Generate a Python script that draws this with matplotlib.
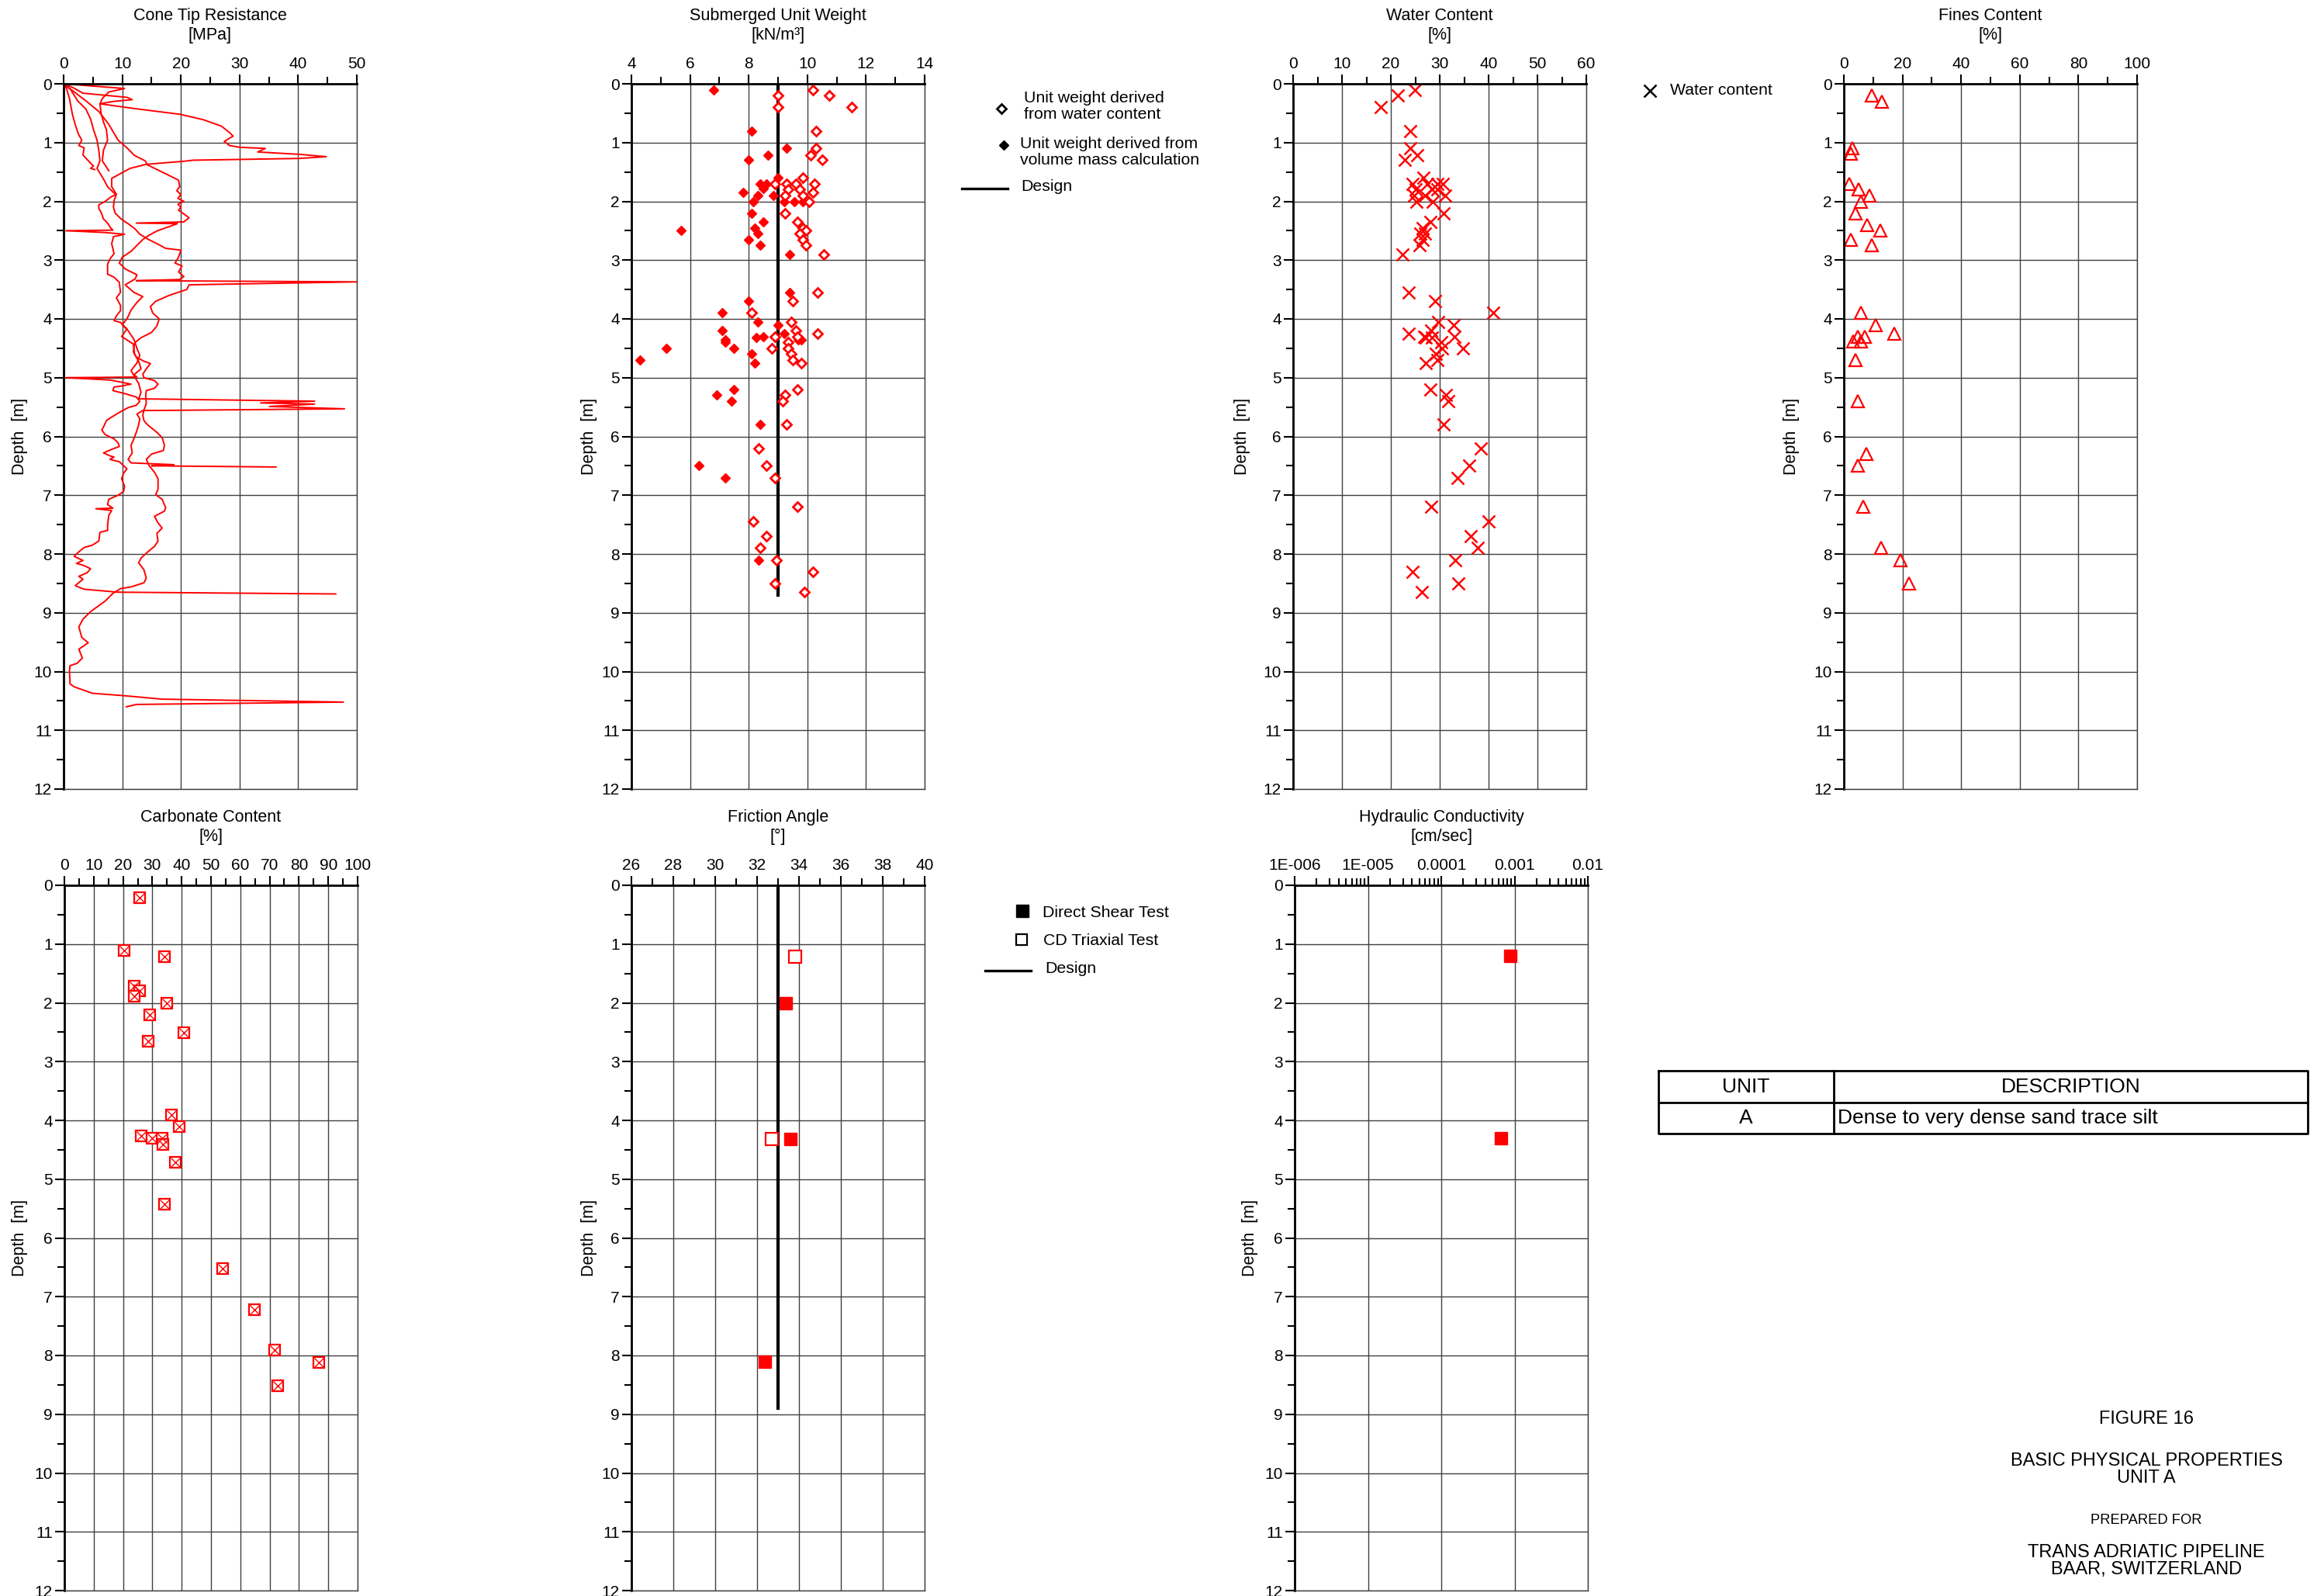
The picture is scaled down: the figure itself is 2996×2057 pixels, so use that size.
import numpy as np
import matplotlib.pyplot as plt
from matplotlib.ticker import MultipleLocator, FixedLocator, FixedFormatter, LogLocator, NullFormatter

plt.rcParams['font.family'] = ['Liberation Sans', 'DejaVu Sans']

W, H = 2996, 2057
DPI = 100

# ***********************
# DATA (depth [m], value)
# ***********************

# cone tip resistance soundings (depth, qc MPa)
cpt_a = [(0, 0), (0.08, 10.4), (0.14, 7.7), (0.25, 6.6), (0.34, 6.2), (0.51, 6.4), (0.65, 6.8),
         (0.78, 7.3), (0.96, 7.5), (1.13, 6.8), (1.31, 6.6), (1.48, 7.7)]
cpt_c = [(0, 0), (0.08, 0.5), (0.25, 1.0), (0.52, 1.5), (0.7, 2.0), (0.85, 2.5), (0.96, 3.1),
         (1.05, 2.6), (1.09, 3.5), (1.21, 3.3), (1.33, 4.4), (1.4, 5.1), (1.44, 4.6), (1.46, 5.3)]
cpt_d = [(0, 0), (0.1, 1.2), (0.29, 2.4), (0.43, 3.8), (0.6, 4.6), (0.78, 5.1), (0.96, 5.7),
         (1.13, 6.0), (1.31, 6.2), (1.44, 5.7), (1.62, 6.8), (1.75, 7.5), (1.86, 8.6), (1.88, 9.0),
         (1.93, 8.0), (2.0, 7.1), (2.06, 6.0), (2.12, 6.0), (2.19, 6.4), (2.3, 6.8), (2.37, 7.5),
         (2.45, 8.0), (2.49, 8.4), (2.5, 0.4), (2.53, 7.0), (2.56, 10.4), (2.6, 8.5), (2.72, 8.2),
         (2.89, 8.6), (2.98, 7.9), (3.07, 7.5), (3.24, 7.5), (3.29, 8.6), (3.38, 9.5), (3.55, 9.7),
         (3.64, 9.0), (3.77, 9.7), (3.86, 9.7), (3.95, 9.0), (4.03, 8.6), (4.06, 9.7), (4.17, 10.8),
         (4.3, 9.9), (4.43, 11.9), (4.6, 12.1), (4.72, 12.8), (4.85, 13.2), (4.95, 12.0), (4.99, 12.5),
         (5.0, 0.4), (5.04, 7.9), (5.07, 9.5), (5.11, 11.5), (5.14, 10.0), (5.16, 8.6), (5.22, 8.4),
         (5.27, 10.4), (5.33, 12.4), (5.4, 13.0), (5.47, 12.4), (5.51, 11.0), (5.58, 9.7), (5.67, 8.2),
         (5.73, 7.3), (5.84, 6.8), (5.89, 6.5), (5.97, 7.1), (6.04, 8.6), (6.11, 9.3), (6.17, 9.5),
         (6.22, 8.2), (6.28, 6.8), (6.33, 7.9), (6.35, 8.6), (6.39, 7.9), (6.43, 9.5), (6.55, 10.8),
         (6.63, 10.2), (6.72, 9.9), (6.85, 10.4), (6.94, 10.2), (7.0, 9.3), (7.07, 7.7), (7.16, 7.5),
         (7.22, 8.4), (7.23, 5.5), (7.26, 8.2), (7.34, 7.7), (7.51, 7.5), (7.6, 7.5), (7.63, 6.2),
         (7.78, 6.0), (7.85, 4.9), (7.89, 3.5), (7.98, 2.4), (8.04, 1.8), (8.11, 3.3), (8.16, 2.2),
         (8.19, 3.3), (8.25, 4.6), (8.32, 4.0), (8.38, 2.6), (8.43, 3.3), (8.52, 2.2), (8.54, 2.0),
         (8.6, 3.5), (8.65, 9.3), (8.68, 46.4)]
cpt_b = [(0, 0), (0.06, 1.5), (0.16, 3.3), (0.23, 10.8), (0.27, 11.7), (0.3, 8.5), (0.34, 6.2),
         (0.42, 12.0), (0.52, 19.9), (0.61, 23.8), (0.72, 26.9), (0.83, 28.3), (0.89, 28.9),
         (0.98, 27.4), (1.05, 28.3), (1.08, 30.0), (1.1, 34.4), (1.16, 33.1), (1.2, 40.2),
         (1.24, 44.8), (1.27, 40.2), (1.3, 22.1), (1.32, 20.3), (1.37, 14.1), (1.44, 11.3),
         (1.61, 8.2), (1.75, 8.2), (1.88, 9.0), (1.99, 8.6), (2.1, 8.5), (2.2, 8.8), (2.3, 9.8),
         (2.38, 11.0), (2.47, 12.2), (2.56, 13.0), (2.65, 14.5), (2.74, 16.3), (2.8, 17.4),
         (2.83, 20.0), (2.95, 19.6), (3.05, 19.0), (3.1, 20.2), (3.2, 19.6), (3.28, 20.5),
         (3.33, 19.8), (3.35, 12.4), (3.37, 50.0), (3.42, 21.4), (3.5, 21.0), (3.6, 18.0),
         (3.7, 15.7), (3.79, 14.8), (3.9, 15.2), (4.0, 16.3), (4.12, 15.9), (4.23, 15.0),
         (4.32, 13.2), (4.41, 12.1), (4.56, 11.9), (4.65, 12.4), (4.72, 13.7), (4.76, 14.8),
         (4.85, 14.1), (4.94, 13.5), (5.0, 13.7), (5.05, 15.5), (5.11, 16.1), (5.18, 15.5),
         (5.22, 14.1), (5.31, 14.0), (5.44, 14.1), (5.55, 13.7), (5.64, 13.5), (5.73, 13.7),
         (5.8, 14.3), (5.93, 15.9), (6.02, 16.8), (6.15, 17.2), (6.24, 17.0), (6.3, 15.0),
         (6.39, 14.1), (6.5, 14.6), (6.61, 15.5), (6.72, 16.1), (6.9, 16.1), (6.99, 15.7),
         (7.07, 16.8), (7.21, 17.4), (7.27, 17.2), (7.36, 15.5), (7.47, 16.1), (7.56, 16.8),
         (7.65, 15.9), (7.78, 16.1), (7.87, 15.5), (7.96, 14.4), (8.07, 13.2), (8.15, 12.8),
         (8.27, 13.7), (8.41, 14.1), (8.49, 13.7), (8.56, 11.5), (8.59, 9.7), (8.67, 8.4),
         (8.8, 7.1), (8.98, 4.6), (9.11, 3.3), (9.24, 2.6), (9.42, 3.1), (9.51, 4.2), (9.62, 2.6),
         (9.77, 3.2), (9.86, 2.3), (9.9, 1.1), (9.99, 1.0), (10.21, 1.1), (10.26, 1.8),
         (10.37, 4.9), (10.41, 10.2), (10.47, 16.8), (10.52, 47.7), (10.56, 12.4), (10.6, 10.7)]
cpt_e = [(0, 0), (0.29, 3.8), (0.47, 6.0), (0.69, 7.7), (0.96, 9.3), (1.09, 10.8), (1.22, 12.1),
         (1.31, 13.9), (1.38, 14.3), (1.53, 17.4), (1.64, 19.6), (1.75, 19.8), (1.82, 19.3),
         (1.88, 20.0), (1.95, 19.5), (2.0, 20.5), (2.05, 19.5), (2.1, 20.0), (2.15, 19.6),
         (2.2, 20.3), (2.28, 21.4), (2.35, 20.5), (2.37, 12.4), (2.38, 19.4), (2.43, 18.0),
         (2.5, 16.0), (2.58, 14.5), (2.65, 13.5), (2.75, 12.5), (2.85, 11.5), (2.95, 10.0),
         (3.05, 9.5), (3.15, 10.5), (3.25, 12.5), (3.32, 12.2), (3.42, 10.5), (3.55, 12.0),
         (3.62, 13.5), (3.72, 12.5), (3.85, 11.5), (4.0, 10.8), (4.1, 10.0), (4.2, 11.0),
         (4.35, 12.0), (4.5, 12.5), (4.62, 13.0), (4.75, 12.5), (4.88, 11.5), (5.0, 12.2),
         (5.1, 12.8), (5.25, 13.2), (5.36, 12.8), (5.4, 42.8), (5.43, 33.6), (5.45, 42.8),
         (5.49, 35.1), (5.53, 47.9), (5.56, 13.5), (5.62, 12.5), (5.7, 13.0), (5.8, 12.8),
         (5.93, 12.4), (6.06, 11.9), (6.15, 11.5), (6.28, 11.7), (6.39, 11.0), (6.45, 11.5),
         (6.48, 18.8), (6.5, 15.0), (6.52, 36.2)]
cpt_soundings = [cpt_a, cpt_c, cpt_d, cpt_b, cpt_e]

# submerged unit weight (depth, kN/m3)
uw_water = [(0.1, 10.2), (0.2, 10.75), (0.2, 9.0), (0.4, 9.0), (0.4, 11.5), (0.8, 10.3), (1.1, 10.3),
            (1.21, 10.1), (1.3, 10.5), (1.6, 9.85), (1.7, 9.3), (1.7, 9.6), (1.7, 10.25), (1.7, 8.9),
            (1.8, 9.75), (1.8, 9.35), (1.85, 10.2), (1.9, 9.85), (1.9, 9.25), (2.0, 10.05), (2.2, 9.25),
            (2.35, 9.65), (2.45, 9.85), (2.5, 9.95), (2.55, 9.75), (2.65, 9.85), (2.75, 9.95),
            (2.9, 10.55), (3.55, 10.35), (3.7, 9.5), (3.9, 8.1), (4.05, 9.45), (4.2, 9.6), (4.25, 10.35),
            (4.3, 8.9), (4.3, 9.65), (4.4, 9.35), (4.5, 8.8), (4.5, 9.35), (4.6, 9.45), (4.7, 9.5),
            (4.75, 9.8), (5.2, 9.65), (5.3, 9.25), (5.4, 9.15), (5.8, 9.3), (6.2, 8.35), (6.5, 8.6),
            (6.7, 8.9), (7.2, 9.65), (7.45, 8.15), (7.7, 8.6), (7.9, 8.4), (8.1, 8.95), (8.3, 10.2),
            (8.5, 8.9), (8.65, 9.9)]
uw_volume = [(0.1, 6.8), (0.8, 8.1), (1.1, 9.3), (1.21, 8.65), (1.3, 8.0), (1.6, 9.0), (1.7, 8.4),
             (1.7, 8.6), (1.78, 8.5), (1.85, 7.8), (1.9, 8.3), (1.9, 8.85), (2.0, 8.15), (2.0, 9.2),
             (2.0, 9.55), (2.0, 9.85), (2.2, 8.1), (2.35, 8.5), (2.45, 8.2), (2.5, 5.7), (2.55, 8.3),
             (2.65, 8.0), (2.75, 8.4), (2.9, 9.4), (3.55, 9.4), (3.7, 8.0), (3.9, 7.1), (4.05, 8.3),
             (4.1, 9.0), (4.2, 7.1), (4.25, 9.2), (4.3, 8.5), (4.32, 8.25), (4.35, 7.2), (4.35, 9.7),
             (4.35, 9.8), (4.4, 7.2), (4.5, 5.2), (4.5, 7.5), (4.6, 8.1), (4.7, 4.3), (4.75, 8.2),
             (5.2, 7.5), (5.3, 6.9), (5.4, 7.4), (5.8, 8.4), (6.5, 6.3), (6.7, 7.2), (8.1, 8.35)]
uw_design_value = 9.0
uw_design_depth = [0.0, 8.7]

# water content (depth, %)
water = [(0.1, 24.9), (0.2, 21.4), (0.4, 17.9), (0.8, 24.0), (1.1, 24.0), (1.21, 25.4), (1.3, 22.9),
         (1.6, 26.6), (1.7, 24.4), (1.7, 27.5), (1.7, 29.6), (1.7, 30.7), (1.8, 25.0), (1.8, 28.4),
         (1.8, 29.6), (1.9, 24.8), (1.9, 27.0), (1.9, 31.1), (2.0, 25.2), (2.0, 28.6), (2.2, 30.8),
         (2.35, 28.1), (2.45, 26.5), (2.55, 26.0), (2.55, 27.0), (2.65, 26.5), (2.75, 25.8),
         (2.9, 22.4), (3.55, 23.7), (3.7, 29.1), (3.9, 41.0), (4.05, 29.7), (4.1, 32.8), (4.2, 28.2),
         (4.25, 23.7), (4.3, 33.0), (4.32, 27.2), (4.32, 28.4), (4.3, 26.8), (4.4, 30.3), (4.5, 30.4),
         (4.5, 34.7), (4.6, 29.2), (4.7, 29.6), (4.75, 27.1), (5.2, 28.1), (5.3, 31.2), (5.4, 31.7),
         (5.8, 30.8), (6.2, 38.4), (6.5, 36.1), (6.7, 33.7), (7.2, 28.2), (7.45, 40.0), (7.7, 36.3),
         (7.9, 37.7), (8.1, 33.1), (8.3, 24.4), (8.5, 33.8), (8.65, 26.3)]

# fines content (depth, %)
fines = [(0.2, 9.5), (0.3, 12.9), (1.1, 2.9), (1.19, 2.3), (1.7, 1.8), (1.8, 5.0), (1.9, 8.6),
         (2.0, 5.9), (2.2, 4.0), (2.4, 8.0), (2.5, 12.4), (2.65, 2.5), (2.75, 9.5), (3.9, 5.9),
         (4.1, 10.9), (4.25, 17.1), (4.3, 4.7), (4.3, 7.2), (4.38, 3.3), (4.38, 5.9), (4.7, 4.0),
         (5.4, 4.7), (6.3, 7.6), (6.5, 4.7), (7.2, 6.6), (7.9, 12.7), (8.1, 19.2), (8.5, 22.3)]

# carbonate content (depth, %)
carbonate = [(0.21, 25.6), (1.11, 20.5), (1.21, 34.0), (1.72, 23.9), (1.8, 25.6), (1.89, 23.9),
             (2.0, 35.0), (2.21, 29.1), (2.51, 40.7), (2.66, 28.6), (3.91, 36.5), (4.11, 39.2),
             (4.26, 26.2), (4.31, 30.0), (4.31, 33.3), (4.41, 33.5), (4.71, 37.7), (5.42, 34.2),
             (6.52, 54.0), (7.22, 64.9), (7.91, 71.8), (8.12, 86.9), (8.52, 72.8)]

# friction angle (depth, deg)
phi_direct_shear = [(2.01, 33.38), (4.32, 33.6), (8.1, 32.38)]
phi_triaxial = [(1.21, 33.8), (4.32, 32.7)]
phi_design_value = 33.0
phi_design_depth = [0.05, 8.9]

# hydraulic conductivity (depth, cm/sec)
hydraulic = [(1.2, 8.8e-4), (4.31, 6.6e-4)]
k_ticks = [1e-6, 1e-5, 1e-4, 1e-3, 1e-2]
k_ticklabels = ['1E-006', '1E-005', '0.0001', '0.001', '0.01']

RED = '#ff0000'
GRID = '#404040'
TICK_FS = 15

fig = plt.figure(figsize=(W / DPI, H / DPI), dpi=DPI)


def make_panel(left, top, title, xlim, major, minor, ylab_off, width=378, height=909):
    ax = fig.add_axes([left / W, 1 - (top + height) / H, width / W, height / H])
    ax.set_ylim(12, 0)
    ax.set_xlim(*xlim)
    ax.yaxis.set_major_locator(MultipleLocator(1))
    ax.yaxis.set_minor_locator(MultipleLocator(0.5))
    if major is not None:
        ax.xaxis.set_major_locator(MultipleLocator(major))
        ax.xaxis.set_minor_locator(MultipleLocator(minor))
    ax.xaxis.tick_top()
    ax.tick_params(which='major', length=9, width=1.5, labelsize=TICK_FS, direction='out')
    ax.tick_params(which='minor', length=6.5, width=1.5, direction='out')
    ax.tick_params(axis='x', which='major', pad=2.5)
    ax.tick_params(axis='y', which='major', pad=2)
    ax.grid(True, which='major', color=GRID, lw=1.0)
    ax.set_axisbelow(True)
    for s in ['left', 'top']:
        ax.spines[s].set_linewidth(2.0)
    for s in ['right', 'bottom']:
        ax.spines[s].set_linewidth(1.0)
        ax.spines[s].set_color(GRID)
    ax.annotate(title, xy=(0.5, 1), xycoords='axes fraction', xytext=(0, 54),
                textcoords='offset points', ha='center', va='center', fontsize=15.5)
    ax.annotate('Depth  [m]', xy=(0, 0.5), xycoords='axes fraction', xytext=(-ylab_off * 0.72, 0),
                textcoords='offset points', ha='center', va='center', rotation=90, fontsize=15.5)
    return ax


def unpack(pairs):
    d = np.array([p[0] for p in pairs])
    v = np.array([p[1] for p in pairs])
    return d, v


# -------- Cone Tip Resistance --------
ax1 = make_panel(82, 108, 'Cone Tip Resistance\n[MPa]', (0, 50), 10, 5, 57)
for snd in cpt_soundings:
    d, q = unpack(snd)
    ax1.plot(q, d, color=RED, lw=1.4, clip_on=False)

# -------- Submerged Unit Weight --------
ax2 = make_panel(814, 108, 'Submerged Unit Weight\n[kN/m³]', (4, 14), 2, 1, 55)
ax2.plot([uw_design_value, uw_design_value], uw_design_depth, color='black', lw=3, zorder=2)
d, v = unpack(uw_volume)
ax2.plot(v, d, 'D', ms=6.5, color=RED, mec=RED, ls='none', zorder=3)
d, v = unpack(uw_water)
ax2.plot(v, d, 'D', ms=6, mfc='white', mec=RED, mew=2, ls='none', zorder=3)

# -------- Water Content --------
ax3 = make_panel(1667, 108, 'Water Content\n[%]', (0, 60), 10, 5, 66)
d, v = unpack(water)
ax3.plot(v, d, 'x', ms=11, mew=1.8, color=RED, ls='none')

# -------- Fines Content --------
ax4 = make_panel(2377, 108, 'Fines Content\n[%]', (0, 100), 20, 10, 67)
d, v = unpack(fines)
ax4.plot(v, d, '^', ms=11, mfc='none', mec=RED, mew=1.6, ls='none')

# -------- Carbonate Content --------
ax5 = make_panel(83, 1141, 'Carbonate Content\n[%]', (0, 100), 10, 5, 58)
d, v = unpack(carbonate)
ax5.plot(v, d, 's', ms=10.5, mfc='white', mec=RED, mew=1.6, ls='none')
ax5.plot(v, d, 'x', ms=9, mew=1.0, color=RED, ls='none')

# -------- Friction Angle --------
ax6 = make_panel(814, 1141, 'Friction Angle\n[°]', (26, 40), 2, 1, 55)
ax6.plot([phi_design_value, phi_design_value], phi_design_depth, color='black', lw=3, zorder=2)
d, v = unpack(phi_direct_shear)
ax6.plot(v, d, 's', ms=11, color=RED, ls='none', zorder=3)
d, v = unpack(phi_triaxial)
ax6.plot(v, d, 's', ms=11, mfc='white', mec=RED, mew=1.6, ls='none', zorder=3)

# -------- Hydraulic Conductivity --------
ax7 = make_panel(1669, 1141, 'Hydraulic Conductivity\n[cm/sec]', (1e-6, 1e-2), None, None, 58)
ax7.set_xscale('log')
ax7.set_xlim(1e-6, 1e-2)
ax7.xaxis.set_major_locator(FixedLocator(k_ticks))
ax7.xaxis.set_major_formatter(FixedFormatter(k_ticklabels))
ax7.xaxis.set_minor_locator(LogLocator(base=10, subs=np.arange(2, 10)))
ax7.xaxis.set_minor_formatter(NullFormatter())
ax7.tick_params(which='minor', length=6.5, width=1.5)
d, v = unpack(hydraulic)
ax7.plot(v, d, 's', ms=11, color=RED, ls='none')

# *******************************
# LEGENDS, TABLE AND TITLE BLOCK
# *******************************
ov = fig.add_axes([0, 0, 1, 1])
ov.set_xlim(0, W)
ov.set_ylim(H, 0)
ov.axis('off')

FS = 15.3
# unit weight legend
ov.plot(1291, 140, 'D', ms=6.5, mfc='white', mec='black', mew=2)
ov.text(1320, 137, 'Unit weight derived\nfrom water content', fontsize=FS, va='center', linespacing=1.1)
ov.plot(1294, 187, 'D', ms=6.5, color='black')
ov.text(1315, 196, 'Unit weight derived from\nvolume mass calculation', fontsize=FS, va='center', linespacing=1.1)
ov.plot([1240, 1299], [243, 243], color='black', lw=2.4)
ov.text(1316, 240, 'Design', fontsize=FS, va='center')

# water content legend
ov.plot(2127, 117, 'x', ms=11, mew=1.8, color='black')
ov.text(2153, 117, 'Water content', fontsize=FS, va='center')

# friction angle legend
ov.plot(1318, 1174, 's', ms=11, color='black')
ov.text(1344, 1177, 'Direct Shear Test', fontsize=FS, va='center')
ov.plot(1317, 1211, 's', ms=10, mfc='white', mec='black', mew=1.6)
ov.text(1345, 1213, 'CD Triaxial Test', fontsize=FS, va='center')
ov.plot([1270, 1329], [1251, 1251], color='black', lw=2.4)
ov.text(1347, 1248, 'Design', fontsize=FS, va='center')

# unit description table
tx0, tx1, tx2 = 2138, 2364, 2975
ty0, ty1, ty2 = 1380, 1421, 1461
ov.plot([tx0, tx2, tx2, tx0, tx0], [ty0, ty0, ty2, ty2, ty0], color='black', lw=2)
ov.plot([tx0, tx2], [ty1, ty1], color='black', lw=2)
ov.plot([tx1, tx1], [ty0, ty2], color='black', lw=2)
ov.text((tx0 + tx1) / 2, (ty0 + ty1) / 2, 'UNIT', fontsize=19, ha='center', va='center')
ov.text((tx1 + tx2) / 2, (ty0 + ty1) / 2, 'DESCRIPTION', fontsize=19, ha='center', va='center')
ov.text((tx0 + tx1) / 2, (ty1 + ty2) / 2, 'A', fontsize=19, ha='center', va='center')
ov.text(tx1 + 5, (ty1 + ty2) / 2, 'Dense to very dense sand trace silt', fontsize=19, ha='left', va='center')

# title block
ov.text(2767, 1829, 'FIGURE 16', fontsize=17, ha='center', va='center')
ov.text(2767, 1894, 'BASIC PHYSICAL PROPERTIES\nUNIT A', fontsize=17, ha='center', va='center',
        linespacing=1.05)
ov.text(2767, 1960, 'PREPARED FOR', fontsize=13.2, ha='center', va='center')
ov.text(2767, 2012, 'TRANS ADRIATIC PIPELINE\nBAAR, SWITZERLAND', fontsize=17, ha='center', va='center',
        linespacing=1.05)

fig.savefig('out.png', dpi=DPI, facecolor='white')
